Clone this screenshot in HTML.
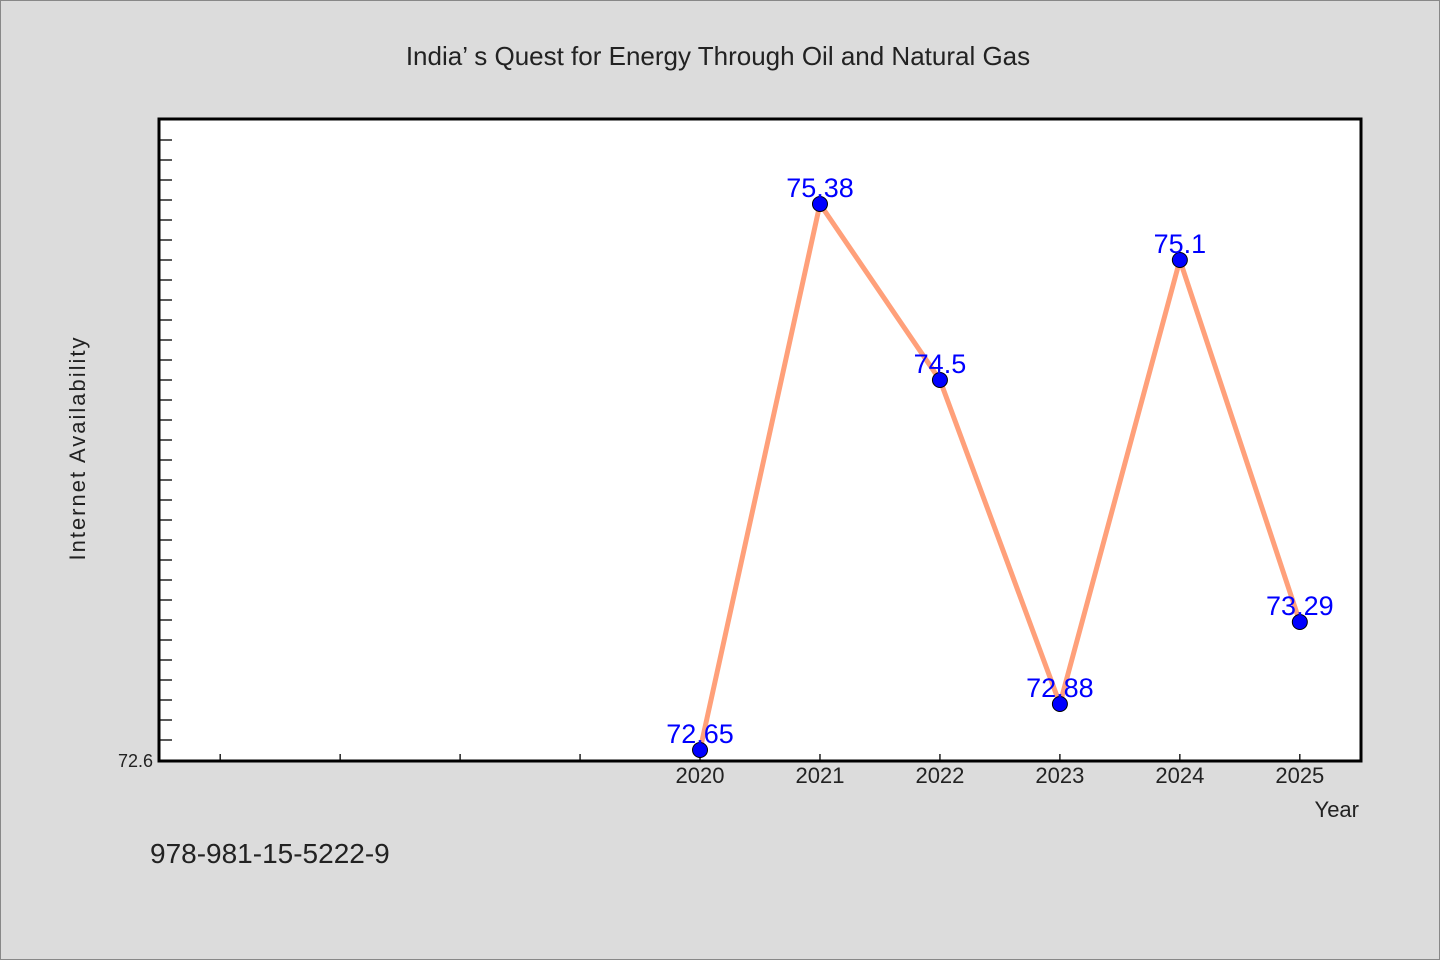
<!DOCTYPE html>
<html><head><meta charset="utf-8"><style>
html,body{margin:0;padding:0;background:#dcdcdc;}
svg{display:block;font-family:"WenQuanYi Zen Hei","Liberation Sans",sans-serif;}
</style></head><body>
<svg id="chart" width="1440" height="960" viewBox="0 0 1440 960">
<rect x="0.5" y="0.5" width="1439" height="959" fill="#dcdcdc" stroke="#888"/>
<text x="718" y="65" text-anchor="middle" font-size="26" fill="#222">India’ s Quest for Energy Through Oil and Natural Gas</text>
<rect x="159" y="119" width="1202" height="642" fill="#fff" stroke="#000" stroke-width="3"/>
<g id="yticks"></g>
<g id="xticks"></g>
<text x="85" y="448" transform="rotate(-90 85 448)" text-anchor="middle" font-size="22" fill="#222" letter-spacing="2">Internet Availability</text>
<text x="1359" y="817" text-anchor="end" font-size="22" fill="#222">Year</text>
<text x="150" y="863" font-size="28" fill="#222">978-981-15-5222-9</text>
<g id="series"></g>
</svg>
<script>
const years = [2020, 2021, 2022, 2023, 2024, 2025];
const values = [72.65, 75.38, 74.5, 72.88, 75.1, 73.29];
const labels = ["72.65", "75.38", "74.5", "72.88", "75.1", "73.29"];
const yMin = 72.6, yMax = 75.805, xMin = 2015.49, xMax = 2025.51;
const L = 159, R = 1361, T = 119, B = 760;
const NS = "http://www.w3.org/2000/svg";
function xs(v){return L + (v - xMin) / (xMax - xMin) * (R - L);}
function ys(v){return B - (v - yMin) / (yMax - yMin) * (B - T);}
function mk(tag, attrs, parent){const e=document.createElementNS(NS,tag);for(const k in attrs)e.setAttribute(k,attrs[k]);parent.appendChild(e);return e;}
const yg=document.getElementById('yticks'), xg=document.getElementById('xticks'), sg=document.getElementById('series');
for(let i=1;i<=31;i++){
  const y=ys(yMin+i*0.1); if(y<T+5) break;
  const t=mk('line',{x1:L,x2:L+13,y1:y,y2:y,stroke:'#000','stroke-width':1.3},yg);
  
  
}
const yl=mk('text',{x:153,y:767,'text-anchor':'end','font-size':18,fill:'#222'},yg);
yl.textContent='72.6';


for(let yr=2016;yr<=2025;yr++){
  const x=xs(yr);
  const t=mk('line',{x1:x,x2:x,y1:B-6,y2:B,stroke:'#000','stroke-width':1.3},xg);
  
  
}
years.forEach(yr=>{
  const t=mk('text',{x:xs(yr),y:783,'text-anchor':'middle','font-size':22,fill:'#222'},xg);
  t.textContent=String(yr);
  
  
});
const line=mk('polyline',{points:years.map((y,i)=>xs(y)+','+ys(values[i])).join(' '),fill:'none',stroke:'#ffa07a','stroke-width':5,'stroke-linejoin':'round'},sg);


years.forEach((yr,i)=>{
  const c=mk('circle',{cx:xs(yr),cy:ys(values[i]),r:7.5,fill:'#0000ff',stroke:'#000','stroke-width':1},sg);
  
  
  const t=mk('text',{x:xs(yr),y:ys(values[i])-7,'text-anchor':'middle','font-size':27,fill:'#0000ff'},sg);
  t.textContent=labels[i];
  
  
});
</script>
</body></html>
